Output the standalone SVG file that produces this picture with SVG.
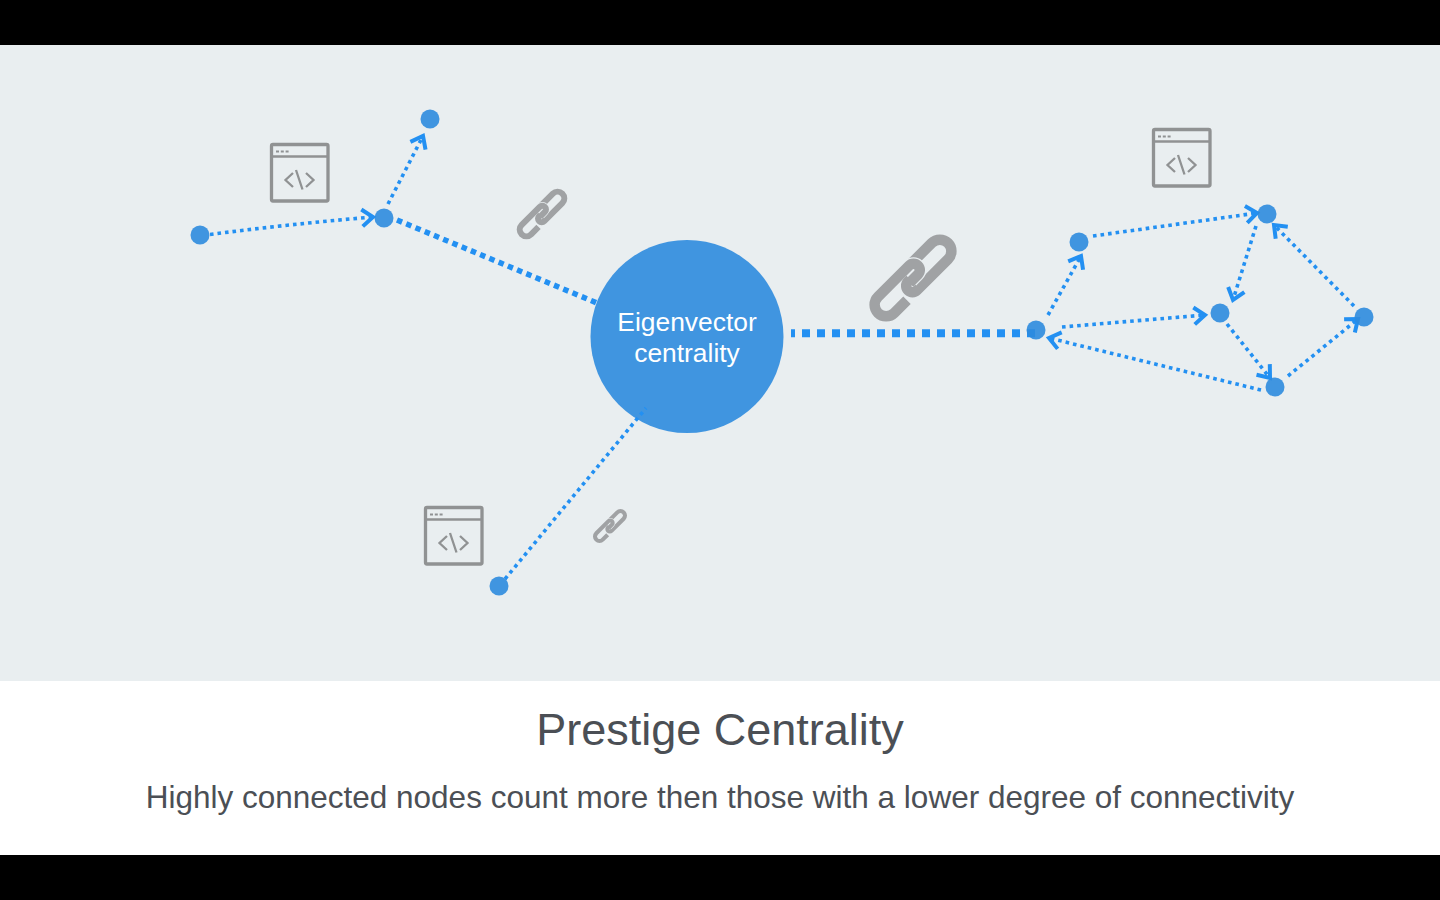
<svg xmlns="http://www.w3.org/2000/svg" xmlns:xlink="http://www.w3.org/1999/xlink" width="1440" height="900" viewBox="0 0 1440 900">
<style>
text{font-family:"Liberation Sans",Arial,sans-serif;text-anchor:middle}
.dot{fill:#2d8bde;fill-opacity:.9}
.thin{fill:none;stroke:#2390f2;stroke-width:3.600;stroke-dasharray:3.600 4}
.arr{marker-end:url(#head)}
.win{fill:none;stroke:#909293}
.lnk{fill:none;stroke:#a0a2a4;stroke-width:10.500}
.halo{fill:none;stroke:#e9eef0;stroke-width:13}
</style>
<defs>
<marker id="head" markerUnits="userSpaceOnUse" markerWidth="28" markerHeight="28" refX="14" refY="14" orient="auto" overflow="visible">
<path d="M3 5.500L14 14L3 22.500" fill="none" stroke="#2390f2" stroke-width="4"/>
</marker>
<g id="window">
<rect x="271.500" y="144.500" width="56.500" height="56.500" rx="1.500" class="win" stroke-width="3.300"/>
<path d="M271.500 156.500H328" class="win" stroke-width="2.400"/>
<path d="M276 151.500H290" class="win" stroke-width="1.800" stroke-dasharray="3 1.800"/>
<path d="M293 173L285.500 180L293 187M296 170L302.500 189.500M306 173L313.500 180L306 187" class="win" stroke-width="2.300"/>
</g>
<g id="link">
<path class="lnk" d="M8 -11.500H38A11.500 11.500 0 0 1 38 11.500H-6A6.250 6.250 0 0 1 -6 -1H8"/>
<path class="halo" d="M-3 -11.500H6A6.250 6.250 0 0 1 6 1H-3"/>
<path class="lnk" d="M-20 11.500H-38A11.500 11.500 0 0 1 -38 -11.500H6A6.250 6.250 0 0 1 6 1H-6"/>
</g>
</defs>
<rect width="1440" height="900" fill="#000"/>
<rect y="45" width="1440" height="636" fill="#e9eef0"/>
<rect y="681" width="1440" height="174" fill="#fff"/>
<g id="icons">
<use xlink:href="#window" href="#window"/>
<use xlink:href="#window" href="#window" transform="translate(882,-15)"/>
<use xlink:href="#window" href="#window" transform="translate(154,363)"/>
<use xlink:href="#link" href="#link" transform="translate(913,278) rotate(-45)"/>
<use xlink:href="#link" href="#link" transform="translate(542,214) rotate(-45) scale(.58)"/>
<use xlink:href="#link" href="#link" transform="translate(610,526) rotate(-45) scale(.39)"/>
</g>
<g id="hub">
<circle cx="687" cy="336.500" r="96.500" fill="#4095e0"/>
<text x="687" y="331" font-size="26.400" fill="#fff">Eigenvector</text>
<text x="687" y="362" font-size="26.400" fill="#fff">centrality</text>
</g>
<g id="connectors">
<path d="M791 333.300H1036" fill="none" stroke="#2390f2" stroke-width="8" stroke-dasharray="8 7" stroke-dashoffset="4"/>
<path d="M397 220L597 303" fill="none" stroke="#2390f2" stroke-width="5.500" stroke-dasharray="5.500 4.500"/>
<path d="M505 579L646 408" class="thin"/>
<path d="M210 234.500Q290 224 373 217" class="thin arr"/>
<path d="M388 204L423 136" class="thin arr"/>
<path d="M1048 315L1081 256" class="thin arr"/>
<path d="M1093 236L1257 213" class="thin arr"/>
<path d="M1062 327L1205 315" class="thin arr"/>
<path d="M1261 390L1049 338" class="thin arr"/>
<path d="M1227 324L1270 378" class="thin arr"/>
<path d="M1256 226L1233 300" class="thin arr"/>
<path d="M1288 376L1358 319" class="thin arr"/>
<path d="M1354 306L1274 225" class="thin arr"/>
</g>
<g id="node-a"><circle class="dot" cx="200" cy="235" r="9.500"/></g>
<g id="node-b"><circle class="dot" cx="384" cy="218" r="9.500"/></g>
<g id="node-c"><circle class="dot" cx="430" cy="119" r="9.500"/></g>
<g id="node-d"><circle class="dot" cx="499" cy="586" r="9.500"/></g>
<g id="node-e"><circle class="dot" cx="1036" cy="330" r="9.500"/></g>
<g id="node-f"><circle class="dot" cx="1079" cy="242" r="9.500"/></g>
<g id="node-g"><circle class="dot" cx="1267" cy="214" r="9.500"/></g>
<g id="node-h"><circle class="dot" cx="1220" cy="313" r="9.500"/></g>
<g id="node-i"><circle class="dot" cx="1364" cy="317" r="9.500"/></g>
<g id="node-j"><circle class="dot" cx="1275" cy="387" r="9.500"/></g>
<g id="caption">
<text x="720" y="745" font-size="45" fill="#4b4f55">Prestige Centrality</text>
<text x="720" y="808" font-size="31.500" fill="#4b4f55">Highly connected nodes count more then those with a lower degree of connectivity</text>
</g>
</svg>
